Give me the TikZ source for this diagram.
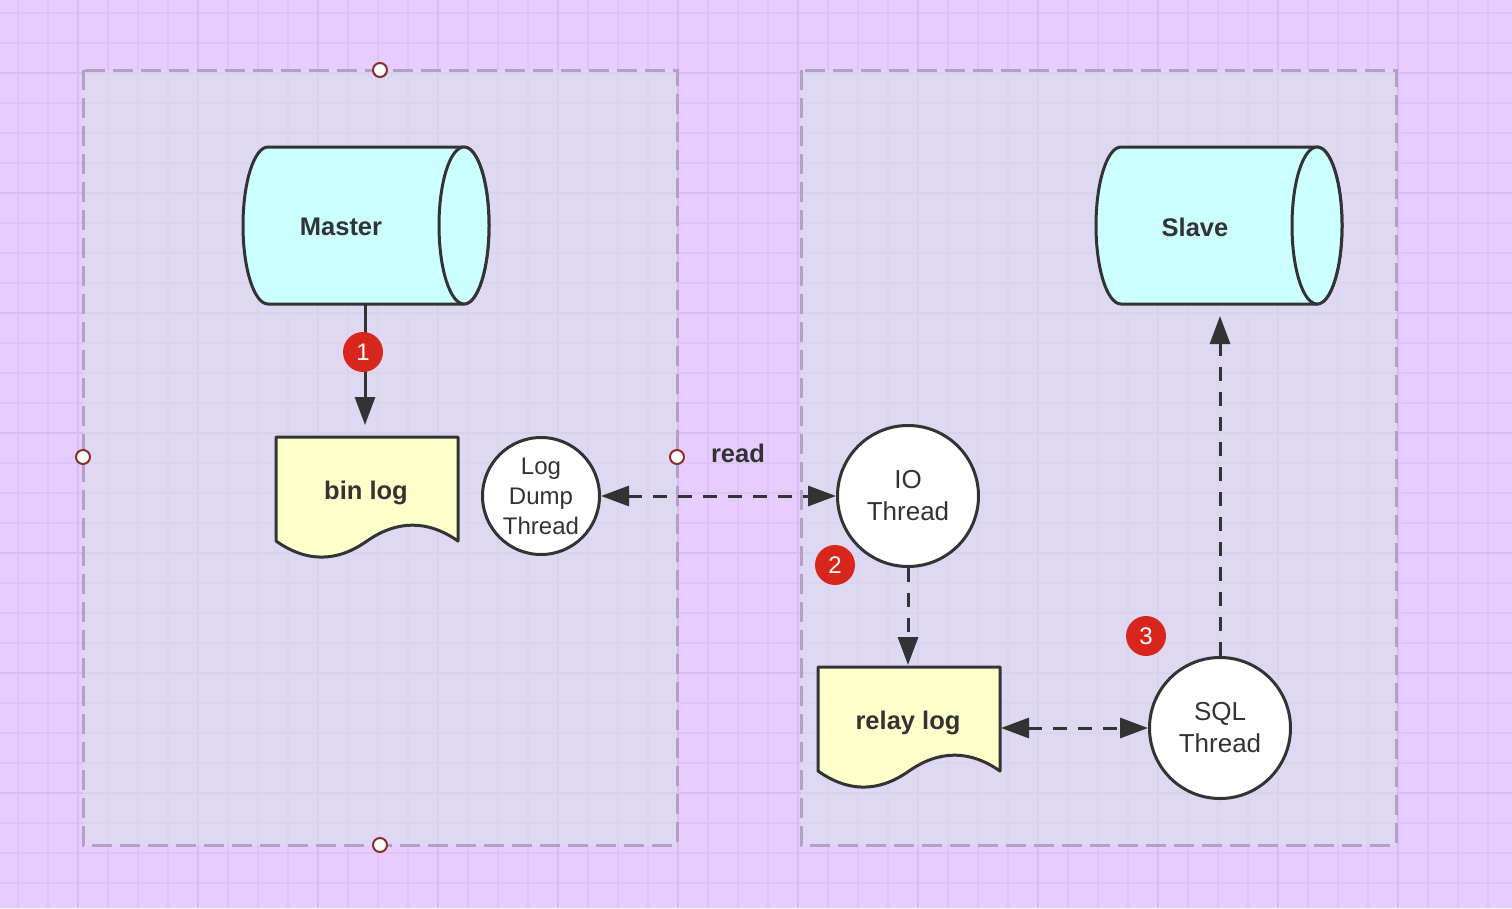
\documentclass[tikz,border=0pt]{standalone}
\usepackage{fontspec}
\setmainfont{Liberation Sans}
\usetikzlibrary{arrows.meta}
\definecolor{bgpurple}{HTML}{E6CCFF}
\definecolor{gridminor}{HTML}{DDC5F3}
\definecolor{gridmajor}{HTML}{D8BEEF}
\definecolor{boxfill}{HTML}{D9E0EA}
\definecolor{boxline}{HTML}{B3A0C4}
\definecolor{cylfill}{HTML}{CCFFFF}
\definecolor{docfill}{HTML}{FFFFCC}
\definecolor{ink}{HTML}{333333}
\definecolor{badgered}{HTML}{D8261C}
\definecolor{handlered}{HTML}{8E2C2C}
\begin{document}
\begin{tikzpicture}[x=1pt,y=-1pt,
  container/.style={draw=boxline, fill=boxfill, fill opacity=0.6, line width=3pt, dash pattern=on 20pt off 8pt},
  cylshape/.style={draw=ink, fill=cylfill, line width=3pt, line join=round},
  docshape/.style={draw=ink, fill=docfill, line width=3pt, line join=round},
  boldtext/.style={text=ink, font=\bfseries\fontsize{25.5}{30}\selectfont, inner sep=0pt},
  thread/.style={circle, draw=ink, fill=white, line width=3pt, inner sep=0pt, align=center, text=ink},
  smallthread/.style={thread, minimum size=117pt, font=\fontsize{24}{30}\selectfont},
  bigthread/.style={thread, minimum size=141pt, font=\fontsize{26}{32}\selectfont},
  solidarrow/.style={draw=ink, line width=3pt, -{Triangle[length=28pt,width=20pt]}},
  dasharrow/.style={draw=ink, line width=3pt, dash pattern=on 14pt off 11pt, -{Triangle[length=28pt,width=20pt]}},
  dashboth/.style={dasharrow, {Triangle[length=28pt,width=20pt]}-{Triangle[length=28pt,width=20pt]}},
  badge/.style={circle, fill=badgered, minimum size=40pt, inner sep=0pt, text=white, font=\fontsize{24}{24}\selectfont},
  handle/.style={circle, draw=handlered, fill=white, line width=2pt, minimum size=14pt, inner sep=0pt}
]
% background and grid
\fill[bgpurple] (0,0) rectangle (1512,908);
\useasboundingbox (0,0) rectangle (1512,908);
\foreach \x in {18,48,...,1508} \draw[gridminor, line width=1.3pt] (\x,0) -- (\x,908);
\foreach \y in {13,43,...,905} \draw[gridminor, line width=1.3pt] (0,\y) -- (1512,\y);
\foreach \x in {78,198,...,1500} \draw[gridmajor, line width=1.8pt] (\x,0) -- (\x,908);
\foreach \y in {73,193,...,900} \draw[gridmajor, line width=1.8pt] (0,\y) -- (1512,\y);

% containers
\path[container] (83,70) rectangle (677,845);
\path[container] (801,70) rectangle (1396,845);

% Master cylinder
\draw[cylshape] (464,147) -- (268,147) arc[start angle=270, end angle=90, x radius=25, y radius=78.5]
  -- (464,304) arc[start angle=90, end angle=-90, x radius=25, y radius=78.5] -- cycle;
\draw[cylshape] (464,225.5) ellipse[x radius=25, y radius=78.5];
\node[boldtext] (master) at (341,227) {Master};

% Slave cylinder
\draw[cylshape] (1317,147) -- (1121,147) arc[start angle=270, end angle=90, x radius=25, y radius=78.5]
  -- (1317,304) arc[start angle=90, end angle=-90, x radius=25, y radius=78.5] -- cycle;
\draw[cylshape] (1317,225.5) ellipse[x radius=25, y radius=78.5];
\node[boldtext] (slave) at (1195,227) {Slave};

% bin log document
\draw[docshape] (276,437) -- (458,437) -- (458,541)
  .. controls (427.67,519.87) and (397.33,519.87) .. (367,541)
  .. controls (336.67,562.47) and (306.33,562.47) .. (276,541) -- cycle;
\node[boldtext] (binlog) at (366,493) {bin log};

% relay log document
\draw[docshape] (818,667) -- (1000,667) -- (1000,771)
  .. controls (969.67,749.87) and (939.33,749.87) .. (909,771)
  .. controls (878.67,792.47) and (848.33,792.47) .. (818,771) -- cycle;
\node[boldtext] (relaylog) at (908,723) {relay log};

% threads
\node[smallthread] (dump) at (541,496) {Log\\Dump\\Thread};
\node[bigthread] (io) at (908,496) {IO\\Thread};
\node[bigthread] (sql) at (1220,728) {SQL\\Thread};

% connector end points
\coordinate (masterbottom) at (365,304);
\coordinate (bintop) at (365,425);
\coordinate (relaytop) at (908,665);
\coordinate (relayright) at (1001,728);
\coordinate (slavebottom) at (1220,316);

% connectors
\draw[solidarrow] (masterbottom) -- (bintop);
\draw[dashboth] (dump.east) -- (io.west);
\draw[dasharrow] (io.south) -- (relaytop);
\draw[dashboth] (relayright) -- (sql.west);
\draw[dasharrow] (sql.north) -- (slavebottom);

\node[boldtext] (readlbl) at (738,453) {read};

% badges
\node[badge] (b1) at (363,352) {1};
\node[badge] (b2) at (835,565) {2};
\node[badge] (b3) at (1146,636) {3};

% selection handles
\node[handle] (h1) at (380,70) {};
\node[handle] (h2) at (83,457) {};
\node[handle] (h3) at (677,457) {};
\node[handle] (h4) at (380,845) {};
\end{tikzpicture}
\end{document}
